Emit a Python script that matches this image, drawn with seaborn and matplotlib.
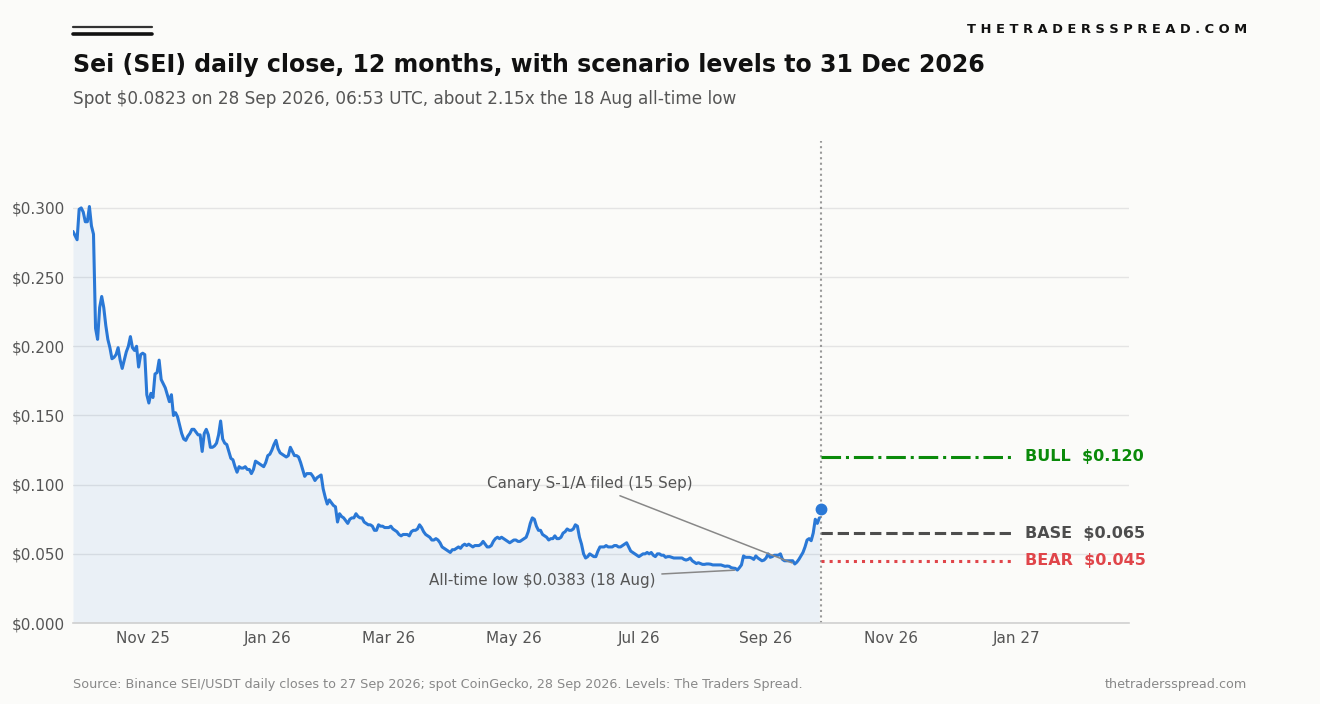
import pandas as pd
import numpy as np
import seaborn as sns
import matplotlib.pyplot as plt
import matplotlib.dates as mdates
from matplotlib.lines import Line2D
from matplotlib.ticker import FuncFormatter

# daily closes, starting 28 Sep 2025
close_oct = [0.283, 0.280, 0.277, 0.299, 0.300, 0.297, 0.290, 0.290, 0.301, 0.287,
             0.281, 0.213, 0.205, 0.228, 0.236, 0.228, 0.215, 0.205, 0.199, 0.191,
             0.192, 0.194, 0.199, 0.190, 0.184, 0.190, 0.196, 0.200, 0.207, 0.199,
             0.197, 0.200, 0.185, 0.194]
close_nov = [0.195, 0.194, 0.165, 0.159, 0.166, 0.163, 0.180, 0.181, 0.190, 0.176,
             0.173, 0.170, 0.165, 0.160, 0.165, 0.150, 0.152, 0.149, 0.143, 0.137,
             0.133, 0.132, 0.135, 0.137, 0.140, 0.140, 0.138, 0.136, 0.136, 0.124]
close_dec = [0.137, 0.140, 0.136, 0.127, 0.127, 0.128, 0.130, 0.136, 0.146, 0.133,
             0.130, 0.129, 0.124, 0.119, 0.118, 0.113, 0.109, 0.113, 0.112, 0.112,
             0.113, 0.111, 0.111, 0.108, 0.111, 0.117, 0.116, 0.115, 0.114, 0.113,
             0.116]
close_jan = [0.121, 0.122, 0.125, 0.129, 0.132, 0.126, 0.123, 0.122, 0.121, 0.120,
             0.121, 0.127, 0.124, 0.121, 0.121, 0.120, 0.116, 0.111, 0.106, 0.108,
             0.108, 0.108, 0.106, 0.103, 0.105, 0.106, 0.107, 0.097, 0.091, 0.086,
             0.089]
close_feb = [0.087, 0.085, 0.084, 0.073, 0.079, 0.077, 0.076, 0.074, 0.072, 0.075,
             0.076, 0.076, 0.079, 0.077, 0.076, 0.076, 0.073, 0.072, 0.071, 0.071,
             0.070, 0.067, 0.067, 0.071, 0.070, 0.070, 0.069, 0.069]
close_mar = [0.069, 0.070, 0.068, 0.067, 0.066, 0.064, 0.063, 0.064, 0.064, 0.064,
             0.063, 0.066, 0.067, 0.067, 0.068, 0.071, 0.069, 0.066, 0.064, 0.063,
             0.062, 0.060, 0.060, 0.061, 0.060, 0.058, 0.055, 0.054, 0.053, 0.052,
             0.051]
close_apr = [0.053, 0.053, 0.054, 0.055, 0.054, 0.056, 0.057, 0.056, 0.057, 0.056,
             0.055, 0.056, 0.056, 0.056, 0.057, 0.059, 0.057, 0.055, 0.055, 0.056,
             0.059, 0.061, 0.062, 0.061, 0.062, 0.061, 0.060, 0.059, 0.058, 0.059]
close_may = [0.060, 0.060, 0.059, 0.059, 0.060, 0.061, 0.062, 0.066, 0.072, 0.076,
             0.075, 0.070, 0.067, 0.067, 0.064, 0.063, 0.062, 0.060, 0.061, 0.061,
             0.063, 0.061, 0.061, 0.062, 0.065, 0.066, 0.068, 0.067, 0.067, 0.068,
             0.071]
close_jun = [0.070, 0.062, 0.057, 0.050, 0.047, 0.048, 0.050, 0.049, 0.048, 0.048,
             0.052, 0.055, 0.055, 0.055, 0.056, 0.055, 0.055, 0.055, 0.056, 0.056,
             0.055, 0.055, 0.056, 0.057, 0.058, 0.055, 0.052, 0.051, 0.050, 0.049]
close_jul = [0.048, 0.049, 0.050, 0.050, 0.051, 0.050, 0.051, 0.049, 0.048, 0.050,
             0.050, 0.049, 0.049, 0.0475, 0.048, 0.048, 0.0475, 0.047, 0.047, 0.047,
             0.047, 0.047, 0.046, 0.0455, 0.046, 0.047, 0.045, 0.044, 0.043, 0.0436,
             0.043]
close_aug = [0.0424, 0.0424, 0.0427, 0.0427, 0.0425, 0.042, 0.042, 0.042, 0.042, 0.042,
             0.0415, 0.041, 0.0412, 0.041, 0.040, 0.0397, 0.0395, 0.0383, 0.040, 0.042,
             0.0485, 0.0475, 0.0475, 0.0475, 0.047, 0.046, 0.0485, 0.047, 0.046, 0.045,
             0.0455]
close_sep = [0.047, 0.050, 0.0475, 0.048, 0.049, 0.049, 0.049, 0.050, 0.046, 0.045,
             0.045, 0.045, 0.045, 0.045, 0.0427, 0.044, 0.046, 0.0485, 0.051, 0.055,
             0.060, 0.061, 0.0595, 0.065, 0.075, 0.072, 0.076]

start_date = '2025-09-28'
spot_date = pd.Timestamp('2026-09-28')
spot_price = 0.0823
scenario_end = pd.Timestamp('2026-12-31')
axis_end = pd.Timestamp('2027-02-25')

scenario_names = ['BULL', 'BASE', 'BEAR']
scenario_levels = [0.120, 0.065, 0.045]
scenario_colors = ['#0a8a0a', '#4d4d4d', '#e0454a']
scenario_styles = ['-.', '--', ':']

atl_date = pd.Timestamp('2026-08-18')
atl_price = 0.0383
canary_date = pd.Timestamp('2026-09-15')

close = (close_oct + close_nov + close_dec + close_jan + close_feb + close_mar +
         close_apr + close_may + close_jun + close_jul + close_aug + close_sep)
df = pd.DataFrame({'date': pd.date_range(start_date, periods=len(close), freq='D'),
                   'close': close})

bg = '#fbfbf9'
blue = '#2a78d6'
grey_txt = '#555555'

sns.set_theme(style='whitegrid', rc={'figure.facecolor': bg, 'axes.facecolor': bg,
                                     'grid.color': '#e4e4e4', 'grid.linewidth': 1.0})
plt.rcParams['font.family'] = ['DejaVu Sans']

fig = plt.figure(figsize=(13.2, 7.04), dpi=100)
ax = fig.add_axes([0.0553, 0.115, 0.8, 0.685])

sns.lineplot(data=df, x='date', y='close', ax=ax, color=blue, linewidth=2.2)
ax.fill_between(df['date'], df['close'], color=blue, alpha=0.08, linewidth=0)
ax.plot([spot_date], [spot_price], 'o', color=blue, markersize=7.5, zorder=5)
ax.axvline(spot_date, color='#999999', linestyle=':', linewidth=1.5, zorder=1)

for name, lvl, col, ls in zip(scenario_names, scenario_levels, scenario_colors, scenario_styles):
    ax.plot([spot_date, scenario_end], [lvl, lvl], color=col, linestyle=ls, linewidth=2.2)
    ax.annotate(f'{name}  ${lvl:.3f}', xy=(scenario_end, lvl), xytext=(8, 0),
                textcoords='offset points', va='center', ha='left',
                fontsize=11.5, fontweight='bold', color=col)

ax.annotate('Canary S-1/A filed (15 Sep)',
            xy=(canary_date, df.loc[df['date'] == canary_date, 'close'].iloc[0]),
            xytext=(pd.Timestamp('2026-06-07'), 0.1005), ha='center', va='center',
            fontsize=10.9, color=grey_txt,
            arrowprops=dict(arrowstyle='-', color='#888888', lw=1.1))
ax.annotate(f'All-time low ${atl_price:.4f} (18 Aug)', xy=(atl_date, atl_price),
            xytext=(pd.Timestamp('2026-05-15'), 0.031), ha='center', va='center',
            fontsize=10.9, color=grey_txt,
            arrowprops=dict(arrowstyle='-', color='#888888', lw=1.1))

ax.set_xlim(pd.Timestamp(start_date), axis_end)
ax.set_ylim(0, 0.3485)
ax.set_yticks(np.arange(0, 0.301, 0.05))
ax.yaxis.set_major_formatter(FuncFormatter(lambda v, p: f'${v:.3f}'))
ax.xaxis.set_major_locator(mdates.MonthLocator(bymonth=[1, 3, 5, 7, 9, 11]))
ax.xaxis.set_major_formatter(mdates.DateFormatter('%b %y'))
ax.grid(axis='x', visible=False)
ax.set_xlabel('')
ax.set_ylabel('')
ax.tick_params(axis='both', length=0, labelsize=11, labelcolor=grey_txt, pad=6)
for s in ['top', 'right', 'left']:
    ax.spines[s].set_visible(False)
ax.spines['bottom'].set_color('#d0d0d0')
ax.spines['bottom'].set_linewidth(1.2)

# header
fig.add_artist(Line2D([0.0553, 0.1152], [0.9616, 0.9616], color='#333333', lw=1.6))
fig.add_artist(Line2D([0.0553, 0.1152], [0.9517, 0.9517], color='#111111', lw=2.6))
fig.text(0.0553, 0.9075, 'Sei (SEI) daily close, 12 months, with scenario levels to 31 Dec 2026',
         fontsize=17, fontweight='bold', color='#111111', va='center', ha='left')
fig.text(0.0553, 0.859, 'Spot $0.0823 on 28 Sep 2026, 06:53 UTC, about 2.15x the 18 Aug all-time low',
         fontsize=12.2, color=grey_txt, va='center', ha='left')
fig.text(0.9447, 0.9588, ' '.join('THETRADERSSPREAD.COM'), fontsize=9.4,
         fontweight='bold', color='#111111', va='center', ha='right')

# footer
fig.text(0.0553, 0.027, 'Source: Binance SEI/USDT daily closes to 27 Sep 2026; spot CoinGecko, 28 Sep 2026. Levels: The Traders Spread.',
         fontsize=9.2, color='#888888', va='center', ha='left')
fig.text(0.9447, 0.027, 'thetradersspread.com', fontsize=9.2, color='#888888',
         va='center', ha='right')

fig.savefig('out.png', dpi=100, facecolor=bg)
